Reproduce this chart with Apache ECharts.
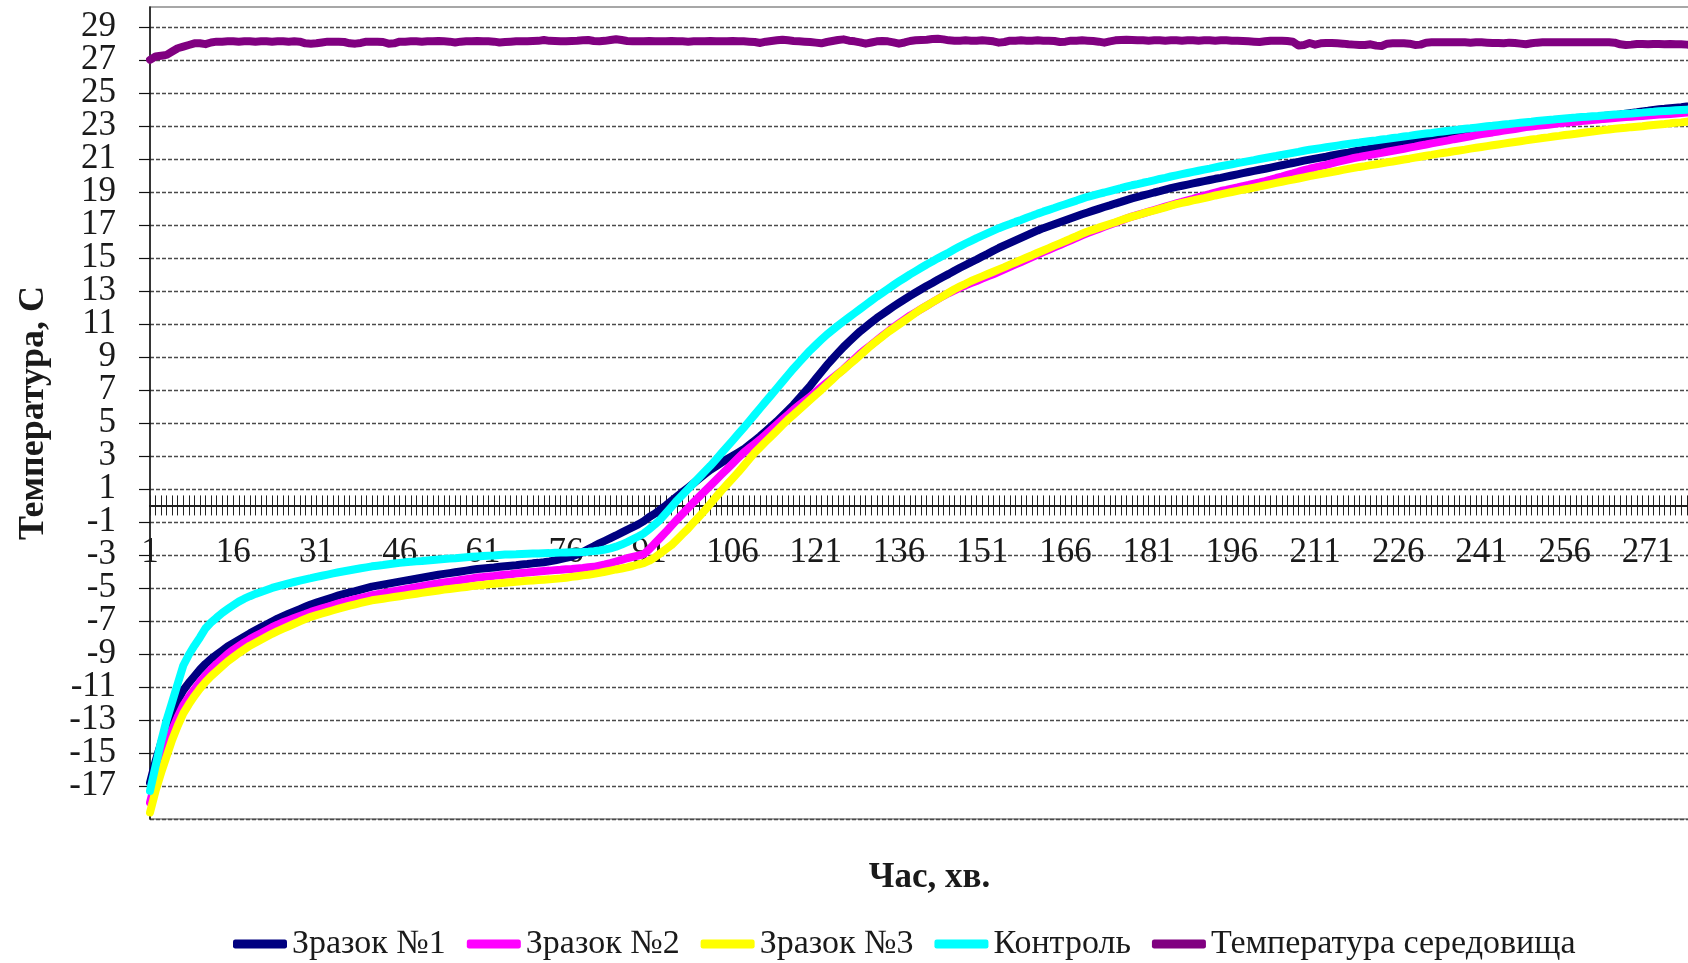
<!DOCTYPE html>
<html>
<head>
<meta charset="utf-8">
<script src="https://cdn.jsdelivr.net/npm/echarts@6/dist/echarts.min.js"></script>
<style>
  html, body { margin: 0; padding: 0; background: #ffffff; overflow: hidden; }
  #chart { width: 1688px; height: 963px; }
</style>
</head>
<body>
<div id="chart"></div>
<script>
// Time axis: minutes from the start of the run
const minutes = Array.from({ length: 282 }, (_, i) => String(i + 1));

// Temperature, °C, one value per minute
const sample1 = [
  -16.8,-15.5,-14.4,-13.4,-12.5,-11.8,-11.2,-10.75,-10.35,-9.95,
  -9.6,-9.3,-9.05,-8.8,-8.55,-8.35,-8.15,-7.95,-7.75,-7.57,
  -7.39,-7.21,-7.03,-6.86,-6.71,-6.56,-6.42,-6.28,-6.14,-6.0,
  -5.89,-5.78,-5.67,-5.56,-5.45,-5.36,-5.27,-5.19,-5.1,-5.01,
  -4.92,-4.86,-4.8,-4.74,-4.68,-4.62,-4.56,-4.5,-4.44,-4.38,
  -4.32,-4.26,-4.2,-4.15,-4.1,-4.05,-4.0,-3.95,-3.9,-3.85,
  -3.82,-3.79,-3.76,-3.72,-3.68,-3.65,-3.62,-3.58,-3.55,-3.51,
  -3.48,-3.44,-3.39,-3.33,-3.25,-3.18,-3.1,-2.98,-2.82,-2.65,
  -2.48,-2.3,-2.14,-1.98,-1.82,-1.65,-1.48,-1.32,-1.15,-0.95,
  -0.7,-0.5,-0.25,0.0,0.28,0.55,0.82,1.08,1.35,1.62,
  1.89,2.15,2.37,2.59,2.8,3.0,3.2,3.4,3.66,3.93,
  4.2,4.5,4.8,5.1,5.43,5.76,6.1,6.48,6.86,7.25,
  7.67,8.08,8.5,8.87,9.24,9.6,9.92,10.24,10.55,10.82,
  11.09,11.35,11.59,11.82,12.05,12.27,12.49,12.7,12.9,13.1,
  13.3,13.48,13.67,13.85,14.03,14.22,14.4,14.57,14.74,14.9,
  15.08,15.25,15.43,15.6,15.76,15.91,16.06,16.21,16.36,16.51,
  16.66,16.8,16.92,17.04,17.16,17.28,17.4,17.52,17.64,17.75,
  17.86,17.97,18.08,18.18,18.29,18.39,18.5,18.6,18.69,18.78,
  18.87,18.96,19.04,19.13,19.22,19.3,19.37,19.44,19.51,19.58,
  19.65,19.72,19.79,19.85,19.92,19.99,20.06,20.13,20.2,20.27,
  20.34,20.4,20.47,20.54,20.61,20.68,20.75,20.82,20.89,20.95,
  21.01,21.07,21.13,21.2,21.26,21.32,21.38,21.45,21.51,21.56,
  21.62,21.67,21.73,21.79,21.84,21.9,21.95,22.0,22.05,22.1,
  22.15,22.2,22.25,22.3,22.35,22.4,22.45,22.5,22.55,22.6,
  22.65,22.7,22.75,22.8,22.85,22.9,22.95,23.0,23.05,23.09,
  23.14,23.18,23.23,23.27,23.31,23.36,23.4,23.43,23.46,23.49,
  23.52,23.55,23.59,23.62,23.65,23.69,23.74,23.78,23.82,23.87,
  23.91,23.96,24.0,24.03,24.07,24.1,24.13,24.17,24.2
];

const sample2 = [
  -18.0,-16.7,-15.6,-14.5,-13.6,-12.8,-12.1,-11.6,-11.15,-10.7,
  -10.3,-9.95,-9.6,-9.3,-9.0,-8.75,-8.52,-8.3,-8.1,-7.92,
  -7.74,-7.56,-7.38,-7.22,-7.08,-6.95,-6.82,-6.7,-6.58,-6.45,
  -6.34,-6.24,-6.14,-6.04,-5.94,-5.85,-5.77,-5.68,-5.6,-5.52,
  -5.44,-5.38,-5.32,-5.26,-5.2,-5.14,-5.08,-5.02,-4.96,-4.9,
  -4.84,-4.78,-4.72,-4.67,-4.62,-4.57,-4.52,-4.47,-4.42,-4.37,
  -4.34,-4.3,-4.27,-4.23,-4.2,-4.17,-4.13,-4.1,-4.07,-4.03,
  -4.0,-3.97,-3.95,-3.92,-3.9,-3.87,-3.85,-3.82,-3.79,-3.75,
  -3.72,-3.65,-3.58,-3.5,-3.4,-3.3,-3.2,-3.12,-3.04,-2.95,
  -2.65,-2.3,-1.95,-1.6,-1.22,-0.85,-0.5,-0.15,0.2,0.53,
  0.87,1.2,1.53,1.87,2.2,2.53,2.87,3.2,3.47,3.73,
  4.0,4.3,4.6,4.9,5.2,5.5,5.8,6.07,6.33,6.6,
  6.88,7.17,7.45,7.72,7.98,8.25,8.57,8.88,9.2,9.47,
  9.73,10.0,10.27,10.53,10.8,11.03,11.27,11.5,11.7,11.9,
  12.1,12.3,12.5,12.7,12.87,13.03,13.2,13.33,13.47,13.6,
  13.74,13.88,14.01,14.15,14.3,14.45,14.6,14.75,14.9,15.05,
  15.2,15.35,15.49,15.64,15.78,15.93,16.07,16.21,16.36,16.5,
  16.63,16.75,16.88,17.0,17.13,17.25,17.38,17.5,17.6,17.7,
  17.8,17.9,18.0,18.1,18.2,18.3,18.39,18.49,18.58,18.68,
  18.77,18.86,18.96,19.05,19.12,19.2,19.27,19.35,19.42,19.5,
  19.57,19.65,19.74,19.84,19.93,20.03,20.12,20.22,20.31,20.4,
  20.48,20.56,20.64,20.73,20.81,20.89,20.97,21.05,21.11,21.18,
  21.24,21.3,21.36,21.43,21.49,21.55,21.61,21.68,21.74,21.81,
  21.87,21.94,22.0,22.06,22.12,22.19,22.25,22.31,22.37,22.44,
  22.5,22.55,22.6,22.66,22.71,22.76,22.81,22.87,22.92,22.96,
  23.0,23.03,23.07,23.11,23.15,23.18,23.22,23.25,23.29,23.32,
  23.35,23.38,23.42,23.45,23.48,23.5,23.53,23.55,23.58,23.6,
  23.63,23.65,23.68,23.7,23.72,23.75,23.77,23.8,23.82
];

const sample3 = [
  -18.6,-17.3,-16.2,-15.2,-14.2,-13.35,-12.6,-12.05,-11.55,-11.1,
  -10.7,-10.35,-10.05,-9.75,-9.45,-9.2,-8.95,-8.72,-8.5,-8.32,
  -8.14,-7.96,-7.78,-7.62,-7.47,-7.32,-7.17,-7.02,-6.88,-6.75,
  -6.65,-6.55,-6.45,-6.35,-6.25,-6.16,-6.07,-5.99,-5.91,-5.83,
  -5.75,-5.7,-5.65,-5.6,-5.55,-5.5,-5.45,-5.4,-5.35,-5.3,
  -5.25,-5.2,-5.15,-5.1,-5.06,-5.02,-4.98,-4.94,-4.89,-4.85,
  -4.82,-4.78,-4.75,-4.72,-4.68,-4.65,-4.62,-4.6,-4.57,-4.55,
  -4.52,-4.5,-4.48,-4.45,-4.42,-4.38,-4.33,-4.29,-4.24,-4.2,
  -4.15,-4.09,-4.02,-3.95,-3.88,-3.82,-3.75,-3.67,-3.58,-3.5,
  -3.35,-3.15,-2.9,-2.65,-2.4,-2.07,-1.73,-1.4,-1.03,-0.67,
  -0.3,0.1,0.5,0.9,1.27,1.63,2.0,2.4,2.8,3.2,
  3.53,3.87,4.2,4.53,4.87,5.2,5.5,5.8,6.1,6.4,
  6.7,7.0,7.32,7.63,7.95,8.23,8.52,8.8,9.1,9.4,
  9.7,9.97,10.23,10.5,10.73,10.97,11.2,11.43,11.67,11.9,
  12.1,12.3,12.5,12.7,12.9,13.1,13.27,13.43,13.6,13.74,
  13.88,14.02,14.16,14.3,14.44,14.59,14.73,14.88,15.02,15.16,
  15.31,15.45,15.59,15.74,15.88,16.02,16.17,16.31,16.46,16.6,
  16.71,16.83,16.94,17.05,17.16,17.28,17.39,17.5,17.59,17.69,
  17.78,17.87,17.97,18.06,18.16,18.25,18.33,18.4,18.48,18.55,
  18.62,18.7,18.78,18.85,18.92,18.99,19.06,19.13,19.19,19.26,
  19.33,19.4,19.47,19.54,19.61,19.68,19.74,19.81,19.88,19.95,
  20.01,20.08,20.14,20.2,20.26,20.33,20.39,20.45,20.51,20.56,
  20.62,20.67,20.73,20.79,20.84,20.9,20.96,21.01,21.07,21.13,
  21.19,21.24,21.3,21.35,21.4,21.46,21.51,21.56,21.62,21.67,
  21.72,21.77,21.82,21.87,21.92,21.97,22.02,22.07,22.12,22.17,
  22.21,22.26,22.3,22.35,22.39,22.44,22.48,22.52,22.57,22.61,
  22.65,22.7,22.74,22.78,22.82,22.85,22.88,22.92,22.95,22.98,
  23.02,23.05,23.08,23.11,23.15,23.18,23.21,23.25,23.28
];

const control = [
  -17.3,-15.8,-14.3,-13.0,-11.9,-10.8,-9.7,-9.05,-8.5,-8.0,
  -7.45,-7.1,-6.8,-6.52,-6.28,-6.05,-5.83,-5.65,-5.5,-5.36,
  -5.24,-5.12,-5.0,-4.9,-4.81,-4.72,-4.64,-4.56,-4.48,-4.41,
  -4.33,-4.26,-4.19,-4.12,-4.05,-3.99,-3.93,-3.87,-3.81,-3.75,
  -3.69,-3.65,-3.61,-3.56,-3.52,-3.48,-3.44,-3.42,-3.39,-3.37,
  -3.34,-3.31,-3.28,-3.25,-3.22,-3.2,-3.17,-3.14,-3.11,-3.09,
  -3.07,-3.05,-3.03,-3.0,-2.98,-2.97,-2.96,-2.94,-2.93,-2.92,
  -2.91,-2.9,-2.89,-2.87,-2.86,-2.85,-2.84,-2.83,-2.82,-2.8,
  -2.77,-2.73,-2.67,-2.6,-2.5,-2.37,-2.22,-2.05,-1.88,-1.7,
  -1.43,-1.15,-0.85,-0.47,-0.09,0.3,0.65,1.0,1.35,1.7,
  2.05,2.4,2.78,3.17,3.55,3.93,4.32,4.7,5.1,5.5,
  5.9,6.3,6.7,7.1,7.5,7.9,8.3,8.67,9.04,9.4,
  9.72,10.04,10.35,10.62,10.89,11.15,11.4,11.65,11.9,12.15,
  12.4,12.65,12.88,13.12,13.35,13.57,13.78,14.0,14.2,14.4,
  14.6,14.78,14.97,15.15,15.33,15.52,15.7,15.87,16.03,16.2,
  16.35,16.5,16.65,16.8,16.93,17.05,17.18,17.3,17.43,17.55,
  17.68,17.8,17.91,18.02,18.14,18.25,18.36,18.47,18.59,18.7,
  18.79,18.88,18.96,19.05,19.14,19.22,19.31,19.4,19.47,19.55,
  19.62,19.7,19.78,19.85,19.93,20.0,20.07,20.14,20.21,20.28,
  20.35,20.41,20.48,20.55,20.61,20.67,20.74,20.8,20.86,20.92,
  20.99,21.05,21.11,21.17,21.24,21.3,21.36,21.42,21.49,21.55,
  21.6,21.65,21.7,21.75,21.8,21.85,21.9,21.95,21.99,22.04,
  22.08,22.12,22.17,22.21,22.26,22.3,22.35,22.39,22.44,22.49,
  22.53,22.57,22.62,22.66,22.7,22.74,22.78,22.82,22.85,22.89,
  22.93,22.97,23.0,23.04,23.08,23.11,23.15,23.19,23.22,23.25,
  23.29,23.32,23.35,23.38,23.42,23.45,23.48,23.5,23.53,23.55,
  23.58,23.6,23.63,23.65,23.68,23.7,23.73,23.75,23.78,23.8,
  23.83,23.85,23.88,23.9,23.92,23.94,23.96,23.98,24.0
];

const ambient = [
  27.0,27.2,27.25,27.3,27.5,27.7,27.8,27.9,28.0,28.0,27.95,28.05,
  28.1,28.1,28.12,28.12,28.1,28.12,28.12,28.1,28.12,28.12,28.1,28.12,28.12,28.1,28.12,28.1,
  28.0,27.98,28.0,28.05,
  28.1,28.1,28.1,28.08,
  28.0,27.98,28.02,
  28.1,28.1,28.1,28.08,
  27.98,28.0,
  28.1,28.1,28.12,28.12,28.1,28.12,28.12,28.14,28.12,28.1,
  28.05,28.1,
  28.12,28.12,28.14,28.12,28.12,28.1,
  28.05,28.08,
  28.1,28.12,28.12,28.12,28.14,28.15,
  28.2,28.15,
  28.14,28.12,28.12,28.14,28.15,28.18,
  28.2,
  28.14,28.12,28.15,28.2,
  28.25,28.2,
  28.14,28.12,28.12,28.12,28.14,28.12,28.12,28.12,28.14,28.12,28.12,28.1,
  28.12,28.12,28.12,28.14,28.12,28.12,28.12,28.14,28.12,28.12,28.1,28.08,
  28.02,
  28.1,28.14,28.18,
  28.22,28.18,
  28.14,28.12,28.1,28.08,28.04,
  28.0,
  28.08,28.14,28.2,
  28.24,
  28.16,28.12,28.06,
  27.98,28.05,
  28.12,28.14,28.12,28.06,
  27.98,28.05,
  28.14,28.18,28.2,28.22,28.26,
  28.28,28.24,
  28.18,28.16,28.16,28.18,28.16,28.16,28.18,28.16,28.12,
  28.04,28.08,
  28.16,28.16,28.18,28.16,28.16,28.18,28.16,28.16,28.14,
  28.08,28.1,
  28.16,28.16,28.18,28.16,28.14,28.1,
  28.04,
  28.12,28.18,28.2,
  28.22,28.2,
  28.18,28.18,28.16,28.18,28.18,28.16,28.18,28.18,28.16,28.18,28.18,
  28.16,28.18,28.18,28.16,28.18,28.18,28.16,28.16,28.14,28.12,28.1,
  28.08,28.12,28.16,28.16,28.16,28.14,28.1,
  27.86,27.9,28.02,27.92,
  28.0,28.02,28.02,28.0,27.98,
  27.94,27.92,27.9,27.9,27.94,
  27.86,27.84,
  27.98,28.0,28.0,28.0,27.98,
  27.9,27.92,
  28.04,28.06,28.06,28.06,28.06,28.06,28.06,28.06,28.04,28.06,28.06,28.04,28.02,28.02,
  28.0,28.04,28.02,27.98,27.94,28.0,
  28.04,28.06,28.06,28.06,28.06,28.06,28.06,28.06,28.06,28.06,28.06,28.06,28.06,28.06,28.04,
  27.94,27.9,27.92,
  27.96,27.96,27.94,27.96,27.96,27.94,27.96,27.94,27.94,27.92,27.9
];

const seriesNames = ['Зразок №1', 'Зразок №2', 'Зразок №3', 'Контроль', 'Температура середовища'];
const seriesData = [sample1, sample2, sample3, control, ambient];
const seriesColors = ['#000080', '#ff00ff', '#ffff00', '#00ffff', '#800080'];

const FONT = '"Liberation Serif", "Times New Roman", serif';
const TEXT = '#1a1a1a';

const chart = echarts.init(document.getElementById('chart'), null, { renderer: 'canvas' });

// Minute axis crosses the temperature axis at 0; the tick marks cross the line,
// so a second, label-less category axis adds the upper half of each tick.
// Labels and the axis title are laid out from the plot's lower edge, so the
// label margin lifts the minute labels up to just under the zero line.
const minuteAxis = (position, withLabels) => ({
  type: 'category',
  data: minutes,
  position: position,
  boundaryGap: false,
  axisLine: { show: true, onZero: true, onZeroAxisIndex: 0, lineStyle: { color: '#111', width: 1.5 } },
  axisTick: { show: true, interval: 0, length: 10, lineStyle: { color: '#222', width: 1 } },
  axisLabel: withLabels
    ? { show: true, interval: 14, margin: -284, fontFamily: FONT, fontSize: 35, color: TEXT }
    : { show: false },
  splitLine: { show: false }
});

const bottomAxis = Object.assign(minuteAxis('bottom', true), {
  name: 'Час, хв.',
  nameLocation: 'middle',
  nameGap: 41,
  nameTextStyle: { fontFamily: FONT, fontSize: 35, fontWeight: 'bold', color: TEXT }
});

chart.setOption({
  animation: false,
  backgroundColor: '#ffffff',
  grid: {
    left: 150, top: 7, width: 1559, height: 812,
    outerBoundsMode: 'none',
    containLabel: false,
    show: true, borderColor: '#8a8a8a', borderWidth: 1.5, backgroundColor: 'transparent'
  },
  xAxis: [bottomAxis, minuteAxis('top', false)],
  yAxis: {
    type: 'value',
    min: -19,
    max: 30.2,
    interval: 2,
    axisLine: { show: true, lineStyle: { color: '#111', width: 1.5 } },
    axisTick: { show: true, length: 11, lineStyle: { color: '#111', width: 1.2 } },
    axisLabel: {
      margin: 34, fontFamily: FONT, fontSize: 35, color: TEXT,
      showMaxLabel: false,
      formatter: v => (Number.isInteger(v) ? String(v) : '')
    },
    splitLine: { show: true, showMaxLine: false, lineStyle: { type: [4, 2], color: '#4a4a4a', width: 1.3 } },
    name: 'Температура, С',
    nameLocation: 'middle',
    nameRotate: 90,
    nameGap: 98,
    nameTextStyle: { fontFamily: FONT, fontSize: 36, fontWeight: 'bold', color: TEXT }
  },
  legend: {
    left: 228, top: 922,
    itemWidth: 54, itemHeight: 9, itemGap: 21,
    icon: 'roundRect',
    textStyle: { fontFamily: FONT, fontSize: 34, color: TEXT },
    data: seriesNames
  },
  series: seriesNames.map((name, i) => ({
    name: name,
    type: 'line',
    xAxisIndex: 0,
    data: seriesData[i],
    symbol: 'none',
    showSymbol: false,
    clip: true,
    lineStyle: { color: seriesColors[i], width: 8, cap: 'round', join: 'round' },
    itemStyle: { color: seriesColors[i] },
    z: 2 + i
  }))
});
</script>
</body>
</html>
